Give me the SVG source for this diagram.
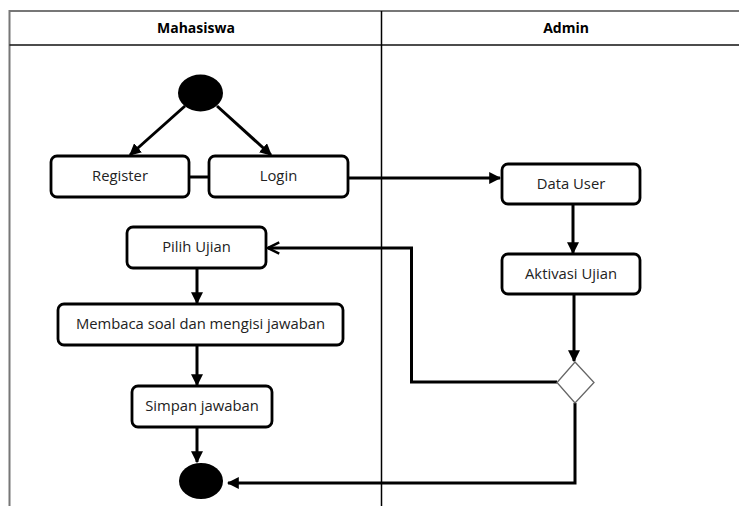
<svg xmlns="http://www.w3.org/2000/svg" width="739" height="506" viewBox="0 0 739 506">
<style>
.node rect{fill:#fff;stroke:#000;stroke-width:2.8}
.node text{font-family:"Open Sans","Liberation Sans",sans-serif;font-size:14.8px;fill:#222;text-anchor:middle}
.hdr{font-family:"Open Sans","Liberation Sans",sans-serif;font-size:14px;font-weight:bold;fill:#000;text-anchor:middle}
.conn path,.conn line{fill:none;stroke:#000;stroke-width:3}
</style>
<defs>
<marker id="tri" viewBox="0 0 10 10" refX="9" refY="5" markerWidth="4" markerHeight="4" orient="auto" markerUnits="strokeWidth">
<path d="M0,0 L10,5 L0,10 z" fill="#000"/>
</marker>
<marker id="open" viewBox="0 0 12 12" refX="11" refY="6" markerWidth="4.5" markerHeight="4.5" orient="auto" markerUnits="strokeWidth">
<path d="M1,1 L11,6 L1,11" fill="none" stroke="#000" stroke-width="2.2"/>
</marker>
</defs>
<rect width="739" height="506" fill="#fff"/>
<!-- swimlanes -->
<g id="lanes">
<line x1="9.5" y1="11" x2="739" y2="11" stroke="#777" stroke-width="2"/>
<line x1="9.5" y1="10" x2="9.5" y2="506" stroke="#777" stroke-width="2"/>
<line x1="9.5" y1="45" x2="739" y2="45" stroke="#111" stroke-width="1.5"/>
<line x1="381.5" y1="11" x2="381.5" y2="506" stroke="#000" stroke-width="1.5"/>
<text class="hdr" x="196" y="33">Mahasiswa</text>
<text class="hdr" x="566" y="33">Admin</text>
</g>
<!-- connectors -->
<g class="conn">
<line x1="185" y1="106" x2="130" y2="155" marker-end="url(#tri)"/>
<line x1="217" y1="106" x2="271" y2="155" marker-end="url(#tri)"/>
<line x1="189" y1="177" x2="209" y2="177"/>
<line x1="348" y1="178" x2="500" y2="178" marker-end="url(#tri)"/>
<line x1="573" y1="204" x2="573" y2="253" marker-end="url(#tri)"/>
<line x1="574" y1="294" x2="574" y2="361" marker-end="url(#tri)"/>
<path d="M557,382 L411.5,382 L411.5,248 L268,248" marker-end="url(#open)"/>
<path d="M575,403 L575,483 L228,483" marker-end="url(#tri)"/>
<line x1="197" y1="268" x2="197" y2="303" marker-end="url(#tri)"/>
<line x1="197" y1="345" x2="197" y2="385" marker-end="url(#tri)"/>
<line x1="197" y1="427" x2="197" y2="462" marker-end="url(#tri)"/>
</g>
<!-- nodes -->
<g id="start"><ellipse cx="200.5" cy="93" rx="22.5" ry="18.5" fill="#000"/></g>
<g id="register" class="node"><rect x="51" y="156" width="138" height="41" rx="6"/><text x="120" y="181">Register</text></g>
<g id="login" class="node"><rect x="209" y="156" width="139" height="41" rx="6"/><text x="278.5" y="181">Login</text></g>
<g id="datauser" class="node"><rect x="502" y="164" width="138" height="40" rx="6"/><text x="571" y="189">Data User</text></g>
<g id="aktivasi" class="node"><rect x="502" y="254" width="138" height="40" rx="6"/><text x="571" y="279">Aktivasi Ujian</text></g>
<g id="pilih" class="node"><rect x="127" y="227" width="139" height="41" rx="6"/><text x="196.5" y="252">Pilih Ujian</text></g>
<g id="membaca" class="node"><rect x="58" y="304" width="285" height="41" rx="6"/><text x="200.5" y="329">Membaca soal dan mengisi jawaban</text></g>
<g id="simpan" class="node"><rect x="132" y="386" width="140" height="41" rx="6"/><text x="202" y="411">Simpan jawaban</text></g>
<g id="decision"><polygon points="575,362 594,382.5 575,403 557,382.5" fill="#fff" stroke="#666" stroke-width="1.3"/></g>
<g id="end"><ellipse cx="201" cy="481" rx="22" ry="18" fill="#000"/></g>
</svg>
